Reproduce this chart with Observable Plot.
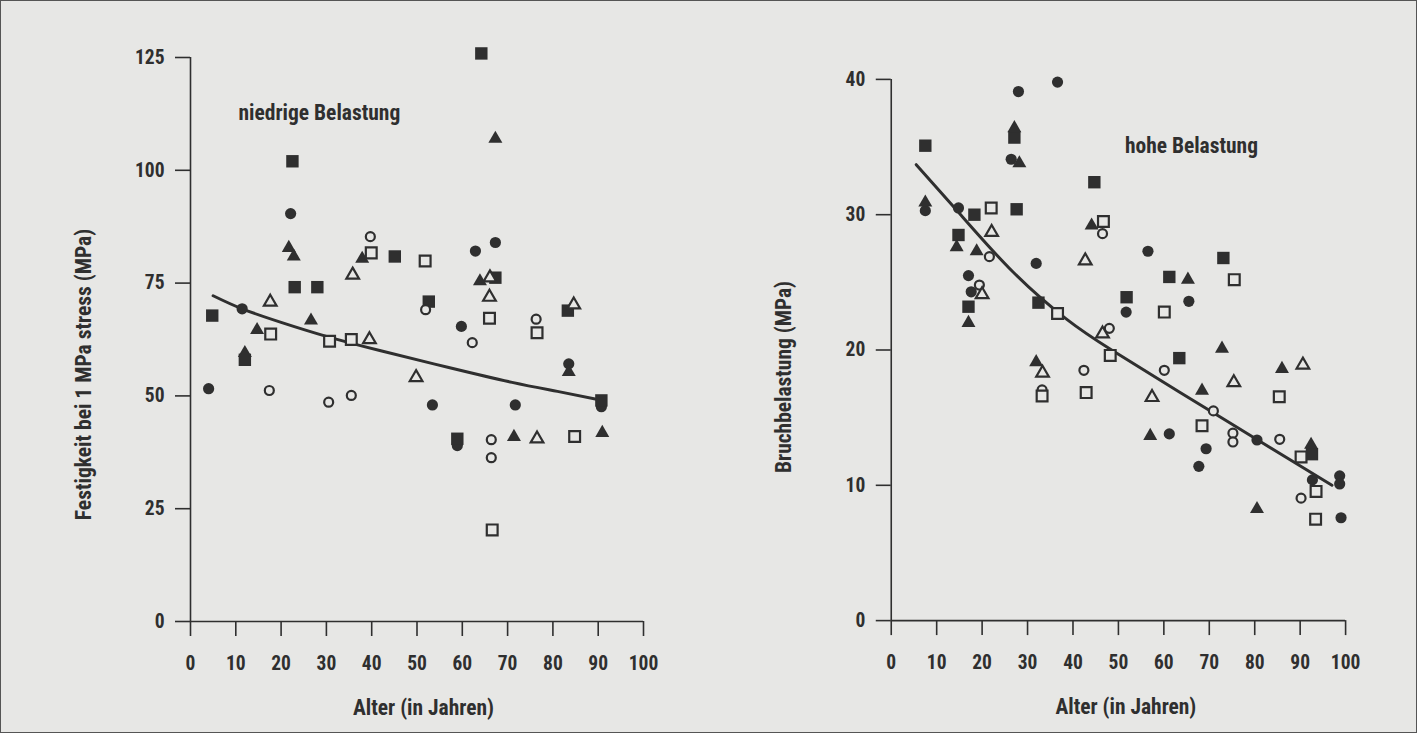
<!DOCTYPE html>
<html>
<head>
<meta charset="utf-8">
<script src="https://cdn.jsdelivr.net/npm/d3@7"></script>
<script src="https://cdn.jsdelivr.net/npm/@observablehq/plot@0.6"></script>
<style>
  html, body { margin: 0; padding: 0; background: #e7e7e5; }
  #wrap { position: relative; width: 1417px; height: 733px; box-sizing: border-box; border: 1px solid #555; overflow: hidden; background: #e7e7e5; }
  #left { position: absolute; left: -1px; top: -1px; }
  #right { position: absolute; left: 707px; top: -1px; }
  svg text { font-stretch: condensed; }
</style>
</head>
<body>
<div id="wrap"><div id="left"></div><div id="right"></div></div>
<script>
// ---------- data (age in years, value in MPa) ----------
const xTicks = [0, 10, 20, 30, 40, 50, 60, 70, 80, 90, 100];
const lowYTicks = [0, 25, 50, 75, 100, 125];
const highYTicks = [0, 10, 20, 30, 40];

const xTitle = "Alter (in Jahren)";
const lowYTitle = "Festigkeit bei 1 MPa stress (MPa)";
const highYTitle = "Bruchbelastung (MPa)";
const lowNote = "niedrige Belastung";
const highNote = "hohe Belastung";

// low load panel
const lowFilledCircle = [[4, 51.6], [11.4, 69.3], [22.1, 90.4], [53.4, 48], [58.9, 39], [59.8, 65.4], [62.9, 82.1], [67.3, 84], [71.7, 48], [83.5, 57.1], [90.7, 47.6]];
const lowFilledSquare = [[4.8, 67.8], [12, 58], [22.5, 102], [23, 74.1], [28, 74.1], [45.1, 80.9], [52.6, 70.9], [58.9, 40.5], [64.2, 125.9], [67.3, 76.2], [83.3, 68.9], [90.7, 49]];
const lowFilledTriangle = [[12, 59.5], [14.7, 64.6], [21.7, 82.8], [22.8, 80.9], [26.6, 66.7], [37.9, 80.4], [63.9, 75.4], [67.3, 107], [71.4, 40.9], [83.5, 55.3], [90.9, 41.8]];
const lowOpenCircle = [[17.4, 51.2], [30.5, 48.6], [35.5, 50.1], [39.7, 85.3], [51.9, 69.1], [62.2, 61.8], [66.4, 40.3], [66.4, 36.3], [76.3, 67]];
const lowOpenSquare = [[17.7, 63.7], [30.7, 62.1], [35.5, 62.5], [39.9, 81.7], [51.8, 79.9], [66, 67.2], [66.6, 20.3], [76.5, 64], [84.8, 41]];
const lowOpenTriangle = [[17.6, 70.8], [35.8, 76.8], [39.5, 62.5], [49.8, 54.1], [66.1, 76.2], [66, 71.9], [76.5, 40.5], [84.6, 70.2]];
const lowTrend = [[5, 72.2], [11.4, 69.3], [20, 66.3], [30, 63.2], [42, 60], [57, 56.3], [71, 53], [81, 51], [91, 49]];

// high load panel
const highFilledCircle = [[7.5, 30.3], [14.8, 30.5], [17, 25.5], [17.6, 24.3], [26.4, 34.1], [28, 39.1], [31.9, 26.4], [36.6, 39.8], [51.7, 22.8], [56.5, 27.3], [61.2, 13.8], [65.5, 23.6], [67.7, 11.4], [69.3, 12.7], [80.5, 13.35], [92.7, 10.4], [98.7, 10.7], [98.7, 10.1], [99, 7.6]];
const highFilledSquare = [[7.5, 35.1], [14.8, 28.5], [17, 23.2], [18.3, 30], [27.1, 35.7], [27.6, 30.4], [32.4, 23.5], [44.7, 32.4], [51.8, 23.9], [61.2, 25.4], [63.4, 19.4], [73.1, 26.8], [92.6, 12.3]];
const highFilledTriangle = [[7.5, 30.9], [14.4, 27.6], [17, 22], [18.8, 27.3], [27.1, 36.4], [28.2, 33.8], [31.9, 19.1], [44.1, 29.2], [57, 13.65], [65.3, 25.2], [68.4, 17], [72.8, 20.1], [80.5, 8.25], [86, 18.6], [92.4, 13]];
const highOpenCircle = [[19.4, 24.8], [21.6, 26.9], [33.2, 17.05], [42.4, 18.5], [46.5, 28.6], [48, 21.6], [60.1, 18.5], [70.9, 15.5], [75.2, 13.85], [75.2, 13.2], [85.5, 13.4], [90.2, 9.05]];
const highOpenSquare = [[22, 30.5], [33.2, 16.6], [36.6, 22.7], [42.9, 16.85], [46.7, 29.5], [48.2, 19.6], [60.1, 22.8], [68.4, 14.4], [75.5, 25.2], [85.4, 16.55], [90.2, 12.1], [93.5, 9.55], [93.4, 7.5]];
const highOpenTriangle = [[20, 24.1], [22.1, 28.7], [33.3, 18.3], [42.7, 26.6], [46.5, 21.2], [57.4, 16.5], [75.4, 17.6], [90.6, 18.9]];
const highTrend = [[5.5, 33.7], [15, 30.1], [26.7, 25.8], [38.5, 22.3], [48.5, 20], [63.4, 16.9], [80.4, 13.4], [97, 10]];

// ---------- drawing ----------
const INK = "#2f2f2f";
const PAPER = "#e7e7e5";
const FONT = "'Roboto Condensed', Roboto, 'Open Sans', sans-serif";
const rows = (a) => a.map(([x, y]) => ({x, y}));

function panel(o) {
  const yDomain = [0, o.yTicks[o.yTicks.length - 1]];
  const filled = (d, symbol, r) => Plot.dot(rows(d), {x: "x", y: "y", symbol, r, fill: INK, stroke: "none"});
  const open = (d, symbol, r) => Plot.dot(rows(d), {x: "x", y: "y", symbol, r, fill: PAPER, stroke: INK, strokeWidth: 2.2});
  return Plot.plot({
    width: o.width,
    height: 733,
    marginLeft: o.marginLeft,
    marginRight: o.marginRight,
    marginTop: o.marginTop,
    marginBottom: 112,
    style: {background: "transparent", fontFamily: FONT, fontStretch: "condensed", fontSize: "19.5px", fontWeight: "bold", color: INK},
    x: {domain: [0, 100]},
    y: {domain: yDomain},
    marks: [
      Plot.ruleY([0], {stroke: INK, strokeWidth: 1.6}),
      Plot.ruleX([0], {stroke: INK, strokeWidth: 1.6}),
      Plot.axisX({ticks: xTicks, tickSize: 15, tickPadding: 20, tickFormat: d3.format("d"), label: null, stroke: INK, strokeWidth: 1.6}),
      Plot.axisY({ticks: o.yTicks, tickSize: 15, tickPadding: 11, tickFormat: d3.format("d"), label: null, stroke: INK, strokeWidth: 1.6}),
      Plot.line(rows(o.trend), {x: "x", y: "y", curve: "natural", stroke: INK, strokeWidth: 3}),
      filled(o.fc, "circle", 5.6),
      filled(o.fs, "square", 7),
      filled(o.ft, "triangle", 5.2),
      open(o.oc, "circle", 4.5),
      open(o.os, "square", 6.1),
      open(o.ot, "triangle", 4.7),
      Plot.text([o.note], {frameAnchor: "top-left", dx: o.noteDx, dy: o.noteDy, textAnchor: "start", lineAnchor: "middle", fontSize: 21.5, fontWeight: "bold", fill: INK}),
      Plot.text([xTitle], {frameAnchor: "bottom", dx: o.xTitleDx, dy: 87, textAnchor: "middle", lineAnchor: "middle", fontSize: 21.5, fontWeight: "bold", fill: INK}),
      Plot.text([o.yTitle], {frameAnchor: "left", rotate: -90, dx: o.yTitleDx, dy: o.yTitleDy, textAnchor: "middle", lineAnchor: "middle", fontSize: 21.5, fontWeight: "bold", fill: INK})
    ]
  });
}

document.getElementById("left").append(panel({
  width: 708, marginLeft: 190, marginRight: 65, marginTop: 57,
  yTicks: lowYTicks, yTitle: lowYTitle, yTitleDx: -106, yTitleDy: 35,
  note: lowNote, noteDx: 48, noteDy: 56, xTitleDx: 6.5,
  fc: lowFilledCircle, fs: lowFilledSquare, ft: lowFilledTriangle,
  oc: lowOpenCircle, os: lowOpenSquare, ot: lowOpenTriangle, trend: lowTrend
}));

document.getElementById("right").append(panel({
  width: 709, marginLeft: 183, marginRight: 71, marginTop: 79,
  yTicks: highYTicks, yTitle: highYTitle, yTitleDx: -107, yTitleDy: 27,
  note: highNote, noteDx: 234, noteDy: 67, xTitleDx: 7.5,
  fc: highFilledCircle, fs: highFilledSquare, ft: highFilledTriangle,
  oc: highOpenCircle, os: highOpenSquare, ot: highOpenTriangle, trend: highTrend
}));
</script>
</body>
</html>
